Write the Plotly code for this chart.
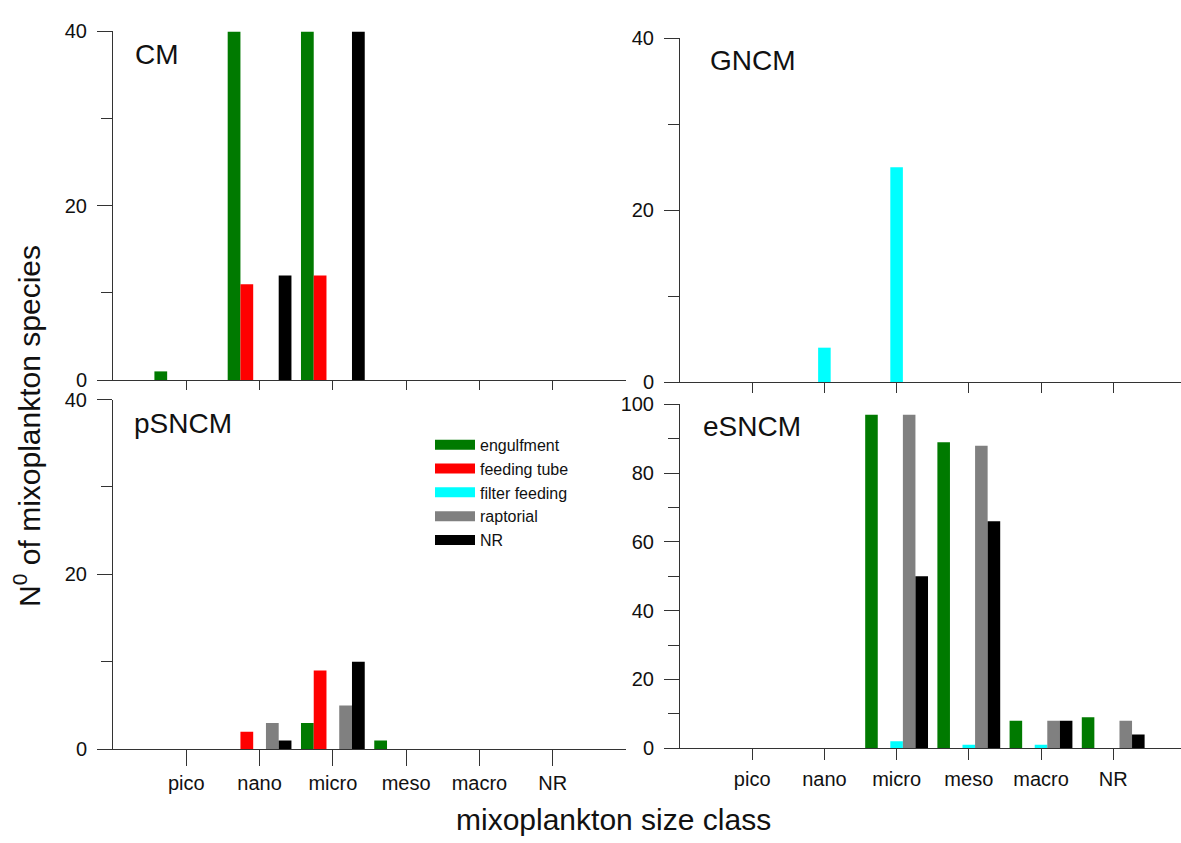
import plotly.graph_objects as go

categories = ["pico", "nano", "micro", "meso", "macro", "NR"]
series_names = ["engulfment", "feeding tube", "filter feeding", "raptorial", "NR"]
series_colors = ["#007a00", "#ff0000", "#00ffff", "#808080", "#000000"]

# CM panel
cm_engulfment = [1, 40, 40, 0, 0, 0]
cm_feeding_tube = [0, 11, 12, 0, 0, 0]
cm_filter_feeding = [0, 0, 0, 0, 0, 0]
cm_raptorial = [0, 0, 0, 0, 0, 0]
cm_nr = [0, 12, 40, 0, 0, 0]

# GNCM panel
gncm_engulfment = [0, 0, 0, 0, 0, 0]
gncm_feeding_tube = [0, 0, 0, 0, 0, 0]
gncm_filter_feeding = [0, 4, 25, 0, 0, 0]
gncm_raptorial = [0, 0, 0, 0, 0, 0]
gncm_nr = [0, 0, 0, 0, 0, 0]

# pSNCM panel
psncm_engulfment = [0, 0, 3, 1, 0, 0]
psncm_feeding_tube = [0, 2, 9, 0, 0, 0]
psncm_filter_feeding = [0, 0, 0, 0, 0, 0]
psncm_raptorial = [0, 3, 5, 0, 0, 0]
psncm_nr = [0, 1, 10, 0, 0, 0]

# eSNCM panel
esncm_engulfment = [0, 0, 97, 89, 8, 9]
esncm_feeding_tube = [0, 0, 0, 0, 0, 0]
esncm_filter_feeding = [0, 0, 2, 1, 1, 0]
esncm_raptorial = [0, 0, 97, 88, 8, 8]
esncm_nr = [0, 0, 50, 66, 8, 4]

panels = [
    ("CM", "x", "y", [cm_engulfment, cm_feeding_tube, cm_filter_feeding, cm_raptorial, cm_nr]),
    ("GNCM", "x2", "y2", [gncm_engulfment, gncm_feeding_tube, gncm_filter_feeding, gncm_raptorial, gncm_nr]),
    ("pSNCM", "x3", "y3", [psncm_engulfment, psncm_feeding_tube, psncm_filter_feeding, psncm_raptorial, psncm_nr]),
    ("eSNCM", "x4", "y4", [esncm_engulfment, esncm_feeding_tube, esncm_filter_feeding, esncm_raptorial, esncm_nr]),
]

W, H = 1181, 843
FONT = "Liberation Sans, Arial, sans-serif"
AXC = "#333333"

fig = go.Figure()
for pname, xa, ya, vals in panels:
    for name, color, v in zip(series_names, series_colors, vals):
        fig.add_trace(go.Bar(
            x=categories, y=v, name=name, marker=dict(color=color, line=dict(width=0)),
            xaxis=xa, yaxis=ya, showlegend=False, offsetgroup=name, legendgroup=name,
        ))

# legend entries (wide swatches) placed in pSNCM panel
for name, color in zip(series_names, series_colors):
    fig.add_trace(go.Scatter(
        x=[None], y=[None], mode="lines", name=name,
        line=dict(color=color, width=12), xaxis="x3", yaxis="y3", showlegend=True,
    ))


def px(x):
    return x / W


def py(y):
    return 1 - y / H


def xaxis(domain, rng, ticklen, showlabels, standoff):
    return dict(
        domain=domain, range=rng, type="category", categoryorder="array", categoryarray=categories,
        showline=True, linecolor=AXC, linewidth=1, ticks="outside", ticklen=ticklen, tickcolor=AXC,
        tickwidth=1, showgrid=False, zeroline=False, showticklabels=showlabels,
        tickfont=dict(family=FONT, size=20, color="#111"), ticklabelstandoff=standoff, fixedrange=True,
    )


def yaxis(domain, rng, anchor):
    return dict(
        domain=domain, range=rng, dtick=20, tick0=0, showline=True, linecolor=AXC, linewidth=1,
        ticks="outside", ticklen=15, tickcolor=AXC, tickwidth=1, showgrid=False, zeroline=False,
        tickfont=dict(family=FONT, size=20, color="#111"), ticklabelstandoff=6, anchor=anchor,
        minor=dict(dtick=10, tick0=0, ticks="outside", ticklen=11, tickcolor=AXC, tickwidth=1, showgrid=False),
        fixedrange=True,
    )


left_dom = [px(113), px(626)]
right_dom = [px(680), 1.0]
right_rng = [-1, -1 + (1181 - 680) / 72.2]

fig.update_layout(
    width=W, height=H, autosize=False,
    margin=dict(l=0, r=0, t=0, b=0),
    paper_bgcolor="white", plot_bgcolor="rgba(0,0,0,0)",
    barmode="group", bargap=0.13, bargroupgap=0,
    font=dict(family=FONT, color="#111"),
    xaxis=xaxis(left_dom, [-1, 6], 9, False, 0) | dict(anchor="y"),
    yaxis=yaxis([py(379), py(21)], [0, 40], "x"),
    xaxis2=xaxis(right_dom, right_rng, 10, False, 0) | dict(anchor="y2"),
    yaxis2=yaxis([py(381), py(28)], [0, 40], "x2"),
    xaxis3=xaxis(left_dom, [-1, 6], 16, True, 0) | dict(anchor="y3"),
    yaxis3=yaxis([py(758), py(399)], [0, 40], "x3"),
    xaxis4=xaxis(right_dom, right_rng, 11, True, 2) | dict(anchor="y4"),
    yaxis4=yaxis([py(757), py(404)], [0, 100], "x4"),
    legend=dict(
        x=px(430), y=py(428), xanchor="left", yanchor="top",
        bgcolor="rgba(0,0,0,0)", borderwidth=0, itemwidth=40,
        font=dict(family=FONT, size=16, color="#111"), tracegroupgap=0,
        itemclick=False, itemdoubleclick=False,
    ),
    showlegend=True,
)

annotations = [
    dict(text="CM", x=px(133), y=py(45)),
    dict(text="GNCM", x=px(708), y=py(51)),
    dict(text="pSNCM", x=px(132), y=py(424)),
    dict(text="eSNCM", x=px(701), y=py(427)),
]
for a in annotations:
    fig.add_annotation(
        text=a["text"], x=a["x"], y=a["y"], xref="paper", yref="paper",
        xanchor="left", yanchor="middle", showarrow=False,
        font=dict(family=FONT, size=28, color="#111"),
    )

fig.add_annotation(
    text="mixoplankton size class", x=px(613), y=py(830), xref="paper", yref="paper",
    xanchor="center", yanchor="middle", showarrow=False,
    font=dict(family=FONT, size=30, color="#111"),
)
fig.add_annotation(
    text="N<sup>0</sup> of mixoplankton species", x=px(27), y=py(426), xref="paper", yref="paper",
    xanchor="center", yanchor="middle", showarrow=False, textangle=-90,
    font=dict(family=FONT, size=30, color="#111"),
)

fig.write_html(
    "out.html",
    config={"displayModeBar": False},
    post_script="document.body.style.margin='0px';document.body.style.overflow='hidden';",
)
